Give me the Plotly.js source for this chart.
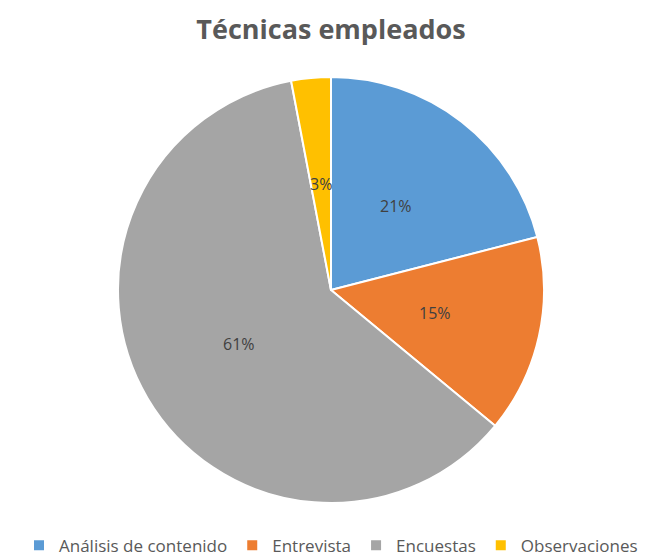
<!DOCTYPE html>
<html>
<head>
<meta charset="utf-8">
<script src="https://cdn.plot.ly/plotly-3.0.1.min.js"></script>
<style>html,body{margin:0;padding:0;background:#fff;}#chart{width:662px;height:558px;}</style>
</head>
<body>
<div id="chart"></div>
<script>
const categories = ["Análisis de contenido", "Entrevista", "Encuestas", "Observaciones"];
const values = [21, 15, 61, 3];
const colors = ["#5B9BD5", "#ED7D31", "#A5A5A5", "#FFC000"];

const W = 662, H = 558;
const margin = {l: 0, r: 0, t: 77, b: 55, autoexpand: false};
const plotW = W - margin.l - margin.r, plotH = H - margin.t - margin.b;
const R = Math.min(plotW, plotH) / 2;

// Data labels placed at half radius along each slice's mid-angle (as in the original)
const total = values.reduce((a, b) => a + b, 0);
let cum = 0;
const annotations = values.map((v) => {
  const mid = (cum + v / 2) / total * 2 * Math.PI;
  cum += v;
  return {
    xref: "paper", yref: "paper",
    x: 0.5 + 0.5 * R * Math.sin(mid) / plotW,
    y: 0.5 + 0.5 * R * Math.cos(mid) / plotH,
    xanchor: "center", yanchor: "middle",
    text: Math.round(v / total * 100) + "%",
    showarrow: false,
    font: {family: "Open Sans, sans-serif", size: 16, color: "#404040"}
  };
});

const data = [{
  type: "pie",
  labels: categories,
  values: values,
  sort: false,
  direction: "clockwise",
  rotation: 0,
  marker: {colors: colors, line: {color: "#FFFFFF", width: 2}},
  textinfo: "none",
  hoverinfo: "none"
}];

const layout = {
  width: W, height: H,
  margin: margin,
  paper_bgcolor: "#FFFFFF",
  title: {
    text: "<b>Técnicas empleados</b>",
    font: {family: "Open Sans, sans-serif", size: 27, color: "#595959"},
    x: 0.5, xanchor: "center", y: 0.947, yanchor: "middle"
  },
  annotations: annotations,
  showlegend: true,
  legend: {
    orientation: "h", x: 0.5, xanchor: "center", y: -0.058, yanchor: "top",
    font: {family: "Open Sans, sans-serif", size: 17, color: "#595959"},
    itemwidth: 30, tracegroupgap: 0
  }
};

Plotly.newPlot("chart", data, layout, {displayModeBar: false});
</script>
</body>
</html>
